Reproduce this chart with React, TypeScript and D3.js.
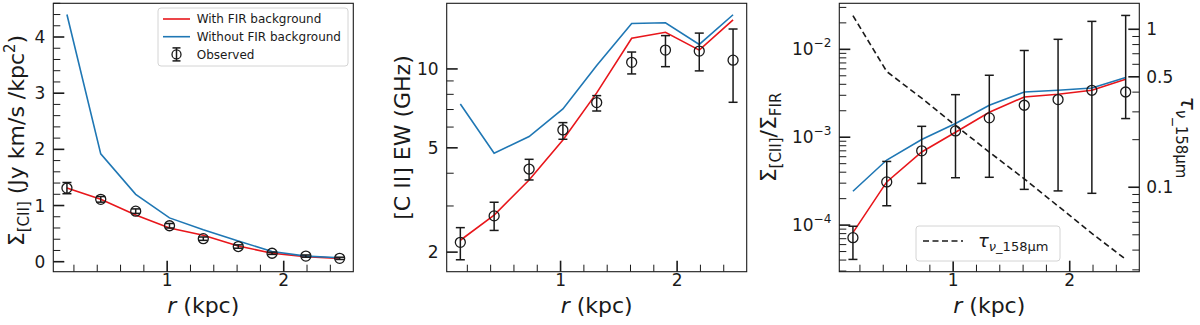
import { useEffect, useRef } from "react";
import * as d3 from "d3";

// radial bins (kpc)
const radius = [0.14, 0.43, 0.73, 1.02, 1.31, 1.61, 1.9, 2.19, 2.48];

// panel 1: [CII] surface brightness
const sbWithFIR = [1.31, 1.11, 0.83, 0.6, 0.47, 0.28, 0.15, 0.09, 0.06];
const sbWithoutFIR = [4.4, 1.92, 1.2, 0.78, 0.57, 0.37, 0.18, 0.1, 0.07];
const sbObs = [1.31, 1.11, 0.9, 0.64, 0.41, 0.27, 0.15, 0.1, 0.06];
const sbObsErr = [0.1, 0.05, 0.04, 0.04, 0.03, 0.03, 0.02, 0.02, 0.02];
const sbTicks = [0, 1, 2, 3, 4];

// panel 2: [CII] equivalent width (GHz)
const ewWithFIR = [2.22, 2.77, 3.77, 5.36, 8.1, 13.1, 13.8, 11.8, 15.4];
const ewWithoutFIR = [7.35, 4.77, 5.52, 7.04, 10.3, 14.9, 15.0, 12.4, 16.1];
const ewObs = [2.18, 2.75, 4.15, 5.85, 7.44, 10.6, 11.8, 11.7, 10.8];
const ewObsLo = [1.87, 2.42, 3.77, 5.39, 6.91, 9.57, 10.2, 9.83, 7.46];
const ewObsHi = [2.48, 3.1, 4.52, 6.24, 7.91, 11.6, 13.4, 13.7, 14.2];
const ewTicks = [2, 5, 10];
const ewMinorTicks = [3, 4, 6, 7, 8, 9];

// panel 3: [CII]/FIR ratio and optical depth
const ratioWithFIR = [8.2e-5, 3.1e-4, 6.8e-4, 1.14e-3, 1.92e-3, 2.87e-3, 3.08e-3, 3.42e-3, 4.56e-3];
const ratioWithoutFIR = [2.43e-4, 5.5e-4, 9.4e-4, 1.43e-3, 2.31e-3, 3.27e-3, 3.42e-3, 3.63e-3, 4.77e-3];
const ratioObs = [7.2e-5, 3.1e-4, 7.0e-4, 1.18e-3, 1.66e-3, 2.31e-3, 2.68e-3, 3.42e-3, 3.27e-3];
const ratioObsLo = [4.07e-5, 1.66e-4, 2.98e-4, 3.46e-4, 3.5e-4, 2.55e-4, 2.45e-4, 2.3e-4, 1.63e-3];
const ratioObsHi = [9.7e-5, 5.3e-4, 1.33e-3, 3.05e-3, 5.07e-3, 9.7e-3, 0.013, 0.0208, 0.0243];
const ratioExponents = [-4, -3, -2];
const tau158 = [1.22, 0.54, 0.366, 0.246, 0.167, 0.113, 0.076, 0.051, 0.035];
const tauTicks = [0.1, 0.5, 1];

const FONT = "DejaVu Sans, sans-serif";
const INK = "#1a1a1a";
const RED = "#e8161b";
const BLUE = "#1f77b4";

const top = 3.3;
const bottom = 271.7;
const panelW = 300;

export default function App() {
  const svgRef = useRef<SVGSVGElement>(null);

  useEffect(() => {
    const svg = d3.select(svgRef.current);
    svg.selectAll("*").remove();

    const logMinors = (lo: number, hi: number, skip: number[] = []) => {
      const out: number[] = [];
      for (let e = Math.floor(Math.log10(lo)); e <= Math.ceil(Math.log10(hi)); e++) {
        for (let m = 2; m <= 9; m++) {
          const v = m * Math.pow(10, e);
          if (v >= lo && v <= hi && !skip.some((s) => Math.abs(s - v) / v < 1e-6)) out.push(v);
        }
      }
      return out;
    };

    const makeX = (x0: number) =>
      d3.scaleLinear().domain([0.023, 2.597]).range([x0, x0 + panelW]);

    // bottom axis with inward ticks
    const drawX = (g: any, x: any, x0: number) => {
      const minors = d3.range(1, 13).map((i) => i * 0.2).filter((v) => Math.abs(v - Math.round(v)) > 1e-6);
      minors.forEach((v) => {
        g.append("line")
          .attr("x1", x(v)).attr("x2", x(v))
          .attr("y1", bottom).attr("y2", bottom - 7)
          .attr("stroke", INK).attr("stroke-width", 1);
      });
      [1, 2].forEach((v) => {
        g.append("line")
          .attr("x1", x(v)).attr("x2", x(v))
          .attr("y1", bottom).attr("y2", bottom - 11)
          .attr("stroke", INK).attr("stroke-width", 1.6);
        g.append("text")
          .attr("x", x(v)).attr("y", 286)
          .attr("text-anchor", "middle")
          .style("font-size", "17px")
          .text(v);
      });
      const lab = g.append("text")
        .attr("x", x0 + panelW / 2).attr("y", 313)
        .attr("text-anchor", "middle")
        .style("font-size", "22px");
      lab.append("tspan").style("font-style", "italic").text("r");
      lab.append("tspan").text(" (kpc)");
    };

    // vertical ticks, side = 1 for left spine, -1 for right spine
    const drawY = (
      g: any, y: any, spineX: number, side: number,
      majors: number[], minors: number[], label: (v: number) => [string, string?]
    ) => {
      minors.forEach((v) => {
        g.append("line")
          .attr("x1", spineX).attr("x2", spineX + side * 7)
          .attr("y1", y(v)).attr("y2", y(v))
          .attr("stroke", INK).attr("stroke-width", 1);
      });
      majors.forEach((v) => {
        g.append("line")
          .attr("x1", spineX).attr("x2", spineX + side * 11)
          .attr("y1", y(v)).attr("y2", y(v))
          .attr("stroke", INK).attr("stroke-width", 1.6);
        const [base, sup] = label(v);
        const t = g.append("text")
          .attr("x", side > 0 ? spineX - 8 : spineX + 7)
          .attr("y", y(v))
          .attr("dy", "0.36em")
          .attr("text-anchor", side > 0 ? "end" : "start")
          .style("font-size", "17px");
        t.append("tspan").text(base);
        if (sup) t.append("tspan").attr("dy", -8).style("font-size", "12px").text(sup);
      });
    };

    const drawLine = (g: any, x: any, y: any, values: number[], color: string, dash?: string) => {
      g.append("path")
        .datum(values)
        .attr("fill", "none")
        .attr("stroke", color)
        .attr("stroke-width", 1.6)
        .attr("stroke-dasharray", dash || null)
        .attr("d", d3.line<number>().x((_, i) => x(radius[i])).y((d) => y(d)));
    };

    const drawObs = (g: any, x: any, y: any, vals: number[], lo: number[], hi: number[]) => {
      vals.forEach((v, i) => {
        const cx = x(radius[i]);
        g.append("line").attr("x1", cx).attr("x2", cx).attr("y1", y(lo[i])).attr("y2", y(hi[i]))
          .attr("stroke", INK).attr("stroke-width", 1.5);
        [lo[i], hi[i]].forEach((e) => {
          g.append("line").attr("x1", cx - 4.5).attr("x2", cx + 4.5).attr("y1", y(e)).attr("y2", y(e))
            .attr("stroke", INK).attr("stroke-width", 1.5);
        });
        g.append("circle").attr("cx", cx).attr("cy", y(v)).attr("r", 5)
          .attr("fill", "none").attr("stroke", INK).attr("stroke-width", 1.3);
      });
    };

    const frame = (g: any, x0: number) => {
      g.append("rect")
        .attr("x", x0).attr("y", top)
        .attr("width", panelW).attr("height", bottom - top)
        .attr("fill", "none").attr("stroke", INK).attr("stroke-width", 1.1);
    };

    const root = svg.append("g").style("font-family", FONT).style("fill", INK);

    // ---------- panel 1 ----------
    {
      const x0 = 53.3;
      const x = makeX(x0);
      const y = d3.scaleLinear().domain([-0.178, 4.6]).range([bottom, top]);
      const g = root.append("g");
      drawLine(g, x, y, sbWithFIR, RED);
      drawLine(g, x, y, sbWithoutFIR, BLUE);
      drawObs(g, x, y, sbObs, sbObs.map((v, i) => v - sbObsErr[i]), sbObs.map((v, i) => v + sbObsErr[i]));
      const minors = d3.range(0, 24).map((i) => i * 0.2).filter((v) => Math.abs(v - Math.round(v)) > 1e-6);
      drawY(g, y, x0, 1, sbTicks, minors, (v) => [String(v)]);
      drawX(g, x, x0);
      frame(g, x0);

      const lab = g.append("text")
        .attr("transform", `translate(24,${(top + bottom) / 2 + 3}) rotate(-90)`)
        .attr("text-anchor", "middle")
        .style("font-size", "22px");
      lab.append("tspan").text("Σ");
      lab.append("tspan").attr("dy", 5).style("font-size", "15px").text("[CII]");
      lab.append("tspan").attr("dy", -5).text(" (Jy km/s /kpc");
      lab.append("tspan").attr("dy", -9).style("font-size", "15px").text("2");
      lab.append("tspan").attr("dy", 9).text(")");

      // legend
      const lg = g.append("g");
      lg.append("rect").attr("x", 158).attr("y", 8).attr("width", 190).attr("height", 58).attr("rx", 3)
        .attr("fill", "#fff").attr("fill-opacity", 0.8).attr("stroke", "#d4d4d4").attr("stroke-width", 1);
      const rows = [
        { label: "With FIR background", color: RED },
        { label: "Without FIR background", color: BLUE },
        { label: "Observed", color: null },
      ];
      rows.forEach((row, i) => {
        const cy = 19 + i * 17.7;
        if (row.color) {
          lg.append("line").attr("x1", 163).attr("x2", 190).attr("y1", cy).attr("y2", cy)
            .attr("stroke", row.color).attr("stroke-width", 1.6);
        } else {
          lg.append("line").attr("x1", 176.5).attr("x2", 176.5).attr("y1", cy - 6.5).attr("y2", cy + 6.5)
            .attr("stroke", INK).attr("stroke-width", 1.5);
          [cy - 6.5, cy + 6.5].forEach((e) => {
            lg.append("line").attr("x1", 172.5).attr("x2", 180.5).attr("y1", e).attr("y2", e)
              .attr("stroke", INK).attr("stroke-width", 1.5);
          });
          lg.append("circle").attr("cx", 176.5).attr("cy", cy).attr("r", 4.5)
            .attr("fill", "none").attr("stroke", INK).attr("stroke-width", 1.3);
        }
        lg.append("text").attr("x", 196.7).attr("y", cy + 4.3).style("font-size", "12px").text(row.label);
      });
    }

    // ---------- panel 2 ----------
    {
      const x0 = 446.7;
      const x = makeX(x0);
      const y = d3.scaleLog().domain([1.684, 17.8]).range([bottom, top]);
      const g = root.append("g");
      drawLine(g, x, y, ewWithFIR, RED);
      drawLine(g, x, y, ewWithoutFIR, BLUE);
      drawObs(g, x, y, ewObs, ewObsLo, ewObsHi);
      drawY(g, y, x0, 1, ewTicks, ewMinorTicks, (v) => [String(v)]);
      drawX(g, x, x0);
      frame(g, x0);
      g.append("text")
        .attr("transform", `translate(410,${(top + bottom) / 2}) rotate(-90)`)
        .attr("text-anchor", "middle")
        .style("font-size", "22px")
        .text("[C II] EW (GHz)");
    }

    // ---------- panel 3 ----------
    {
      const x0 = 839.3;
      const x = makeX(x0);
      const y = d3.scaleLog().domain([2.95e-5, 0.0334]).range([bottom, top]);
      const yTau = d3.scaleLog().domain([0.0292, 1.46]).range([bottom, top]);
      const g = root.append("g");
      drawLine(g, x, yTau, tau158, INK, "6,3.5");
      drawLine(g, x, y, ratioWithFIR, RED);
      drawLine(g, x, y, ratioWithoutFIR, BLUE);
      drawObs(g, x, y, ratioObs, ratioObsLo, ratioObsHi);

      const majors = ratioExponents.map((e) => Math.pow(10, e));
      drawY(g, y, x0, 1, majors, logMinors(2.95e-5, 0.0334), (v) => ["10", `−${-Math.round(Math.log10(v))}`]);
      drawY(g, yTau, x0 + panelW, -1, tauTicks, logMinors(0.0292, 1.46, tauTicks), (v) => [String(v)]);
      drawX(g, x, x0);
      frame(g, x0);

      const lab = g.append("text")
        .attr("transform", `translate(776,${(top + bottom) / 2}) rotate(-90)`)
        .attr("text-anchor", "middle")
        .style("font-size", "22px");
      lab.append("tspan").text("Σ");
      lab.append("tspan").attr("dy", 5).style("font-size", "15px").text("[CII]");
      lab.append("tspan").attr("dy", -5).text("/Σ");
      lab.append("tspan").attr("dy", 5).style("font-size", "15px").text("FIR");

      const rlab = g.append("text")
        .attr("transform", `translate(1181,${(top + bottom) / 2}) rotate(90)`)
        .attr("text-anchor", "middle")
        .style("font-size", "22px");
      rlab.append("tspan").style("font-style", "italic").text("τ");
      rlab.append("tspan").attr("dy", 5).style("font-size", "15px").style("font-style", "italic").text("ν");
      rlab.append("tspan").style("font-size", "15px").text("_158μm");

      // legend
      const lg = g.append("g");
      lg.append("rect").attr("x", 916).attr("y", 226).attr("width", 144).attr("height", 35).attr("rx", 3)
        .attr("fill", "#fff").attr("fill-opacity", 0.8).attr("stroke", "#d4d4d4").attr("stroke-width", 1);
      lg.append("line").attr("x1", 923).attr("x2", 963).attr("y1", 241).attr("y2", 241)
        .attr("stroke", INK).attr("stroke-width", 1.6).attr("stroke-dasharray", "6,3.5");
      const lt = lg.append("text").attr("x", 978).attr("y", 246.5).style("font-size", "18px");
      lt.append("tspan").style("font-style", "italic").text("τ");
      lt.append("tspan").attr("dy", 4).style("font-size", "13px").style("font-style", "italic").text("ν");
      lt.append("tspan").style("font-size", "13px").text("_158μm");
    }
  }, []);

  return (
    <svg
      ref={svgRef}
      width={1200}
      height={325}
      style={{ position: "absolute", left: 0, top: 0, background: "#fff" }}
    />
  );
}
